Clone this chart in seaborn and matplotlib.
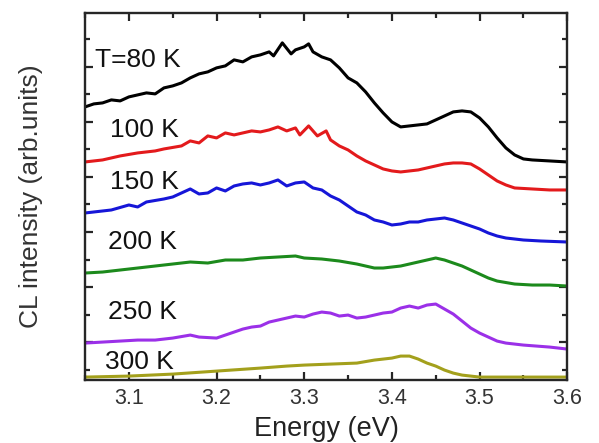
import pandas as pd
import seaborn as sns
import matplotlib.pyplot as plt
from matplotlib.ticker import MultipleLocator

# CL spectra (energy in eV, intensity in arb. units, curves already offset)
e_80 = [3.05, 3.06, 3.07, 3.08, 3.09, 3.10, 3.11, 3.12, 3.13, 3.14, 3.15, 3.16, 3.17, 3.18, 3.19,
        3.20, 3.21, 3.22, 3.23, 3.24, 3.25, 3.26, 3.265, 3.275, 3.285, 3.29, 3.30, 3.305, 3.31, 3.32,
        3.33, 3.34, 3.35, 3.36, 3.37, 3.38, 3.39, 3.40, 3.41, 3.42, 3.43, 3.44, 3.45, 3.46, 3.47,
        3.48, 3.49, 3.50, 3.51, 3.52, 3.53, 3.54, 3.55, 3.56, 3.58, 3.60]
i_80 = [273, 276, 277, 280, 279, 283, 285, 287, 286, 292, 294, 297, 302, 306, 308,
        312, 314, 320, 318, 323, 325, 328, 324, 337, 326, 330, 333, 336, 328, 323,
        320, 312, 302, 297, 288, 277, 267, 258, 253, 254, 255, 256, 260, 264, 268,
        269, 268, 262, 253, 242, 232, 225, 221, 220, 219, 218]

e_100 = [3.05, 3.07, 3.09, 3.11, 3.13, 3.14, 3.16, 3.17, 3.18, 3.19, 3.20, 3.21, 3.22, 3.24, 3.25,
         3.26, 3.27, 3.28, 3.29, 3.295, 3.305, 3.315, 3.325, 3.33, 3.34, 3.35, 3.36, 3.37, 3.38,
         3.39, 3.40, 3.41, 3.42, 3.43, 3.44, 3.45, 3.46, 3.47, 3.48, 3.49, 3.50, 3.51, 3.52, 3.53,
         3.54, 3.56, 3.58, 3.60]
i_100 = [218, 220, 224, 227, 229, 231, 234, 239, 237, 244, 242, 247, 245, 249, 248,
         250, 253, 249, 252, 245, 254, 244, 249, 240, 234, 230, 224, 219, 215,
         211, 209, 208, 209, 210, 212, 214, 216, 217, 217, 216, 211, 205, 199, 195,
         192, 191, 190, 190]

e_150 = [3.05, 3.06, 3.08, 3.10, 3.11, 3.12, 3.14, 3.15, 3.16, 3.17, 3.18, 3.19, 3.20, 3.21, 3.22,
         3.23, 3.24, 3.25, 3.26, 3.27, 3.28, 3.29, 3.30, 3.31, 3.32, 3.33, 3.34, 3.35, 3.36, 3.37,
         3.38, 3.39, 3.40, 3.41, 3.42, 3.43, 3.44, 3.45, 3.46, 3.47, 3.48, 3.49, 3.50, 3.51, 3.52,
         3.53, 3.55, 3.57, 3.60]
i_150 = [167, 168, 170, 175, 173, 178, 181, 183, 187, 191, 186, 187, 192, 189, 194,
         196, 197, 195, 197, 200, 194, 197, 198, 192, 190, 184, 180, 174, 168, 165,
         160, 158, 155, 156, 158, 158, 160, 161, 162, 160, 157, 154, 151, 147, 144,
         142, 140, 139, 138]

e_200 = [3.05, 3.07, 3.09, 3.11, 3.13, 3.15, 3.17, 3.19, 3.21, 3.23, 3.25, 3.27, 3.29, 3.30, 3.32,
         3.34, 3.36, 3.38, 3.39, 3.41, 3.43, 3.44, 3.45, 3.46, 3.47, 3.48, 3.49, 3.50, 3.51, 3.52,
         3.54, 3.56, 3.58, 3.60]
i_200 = [107, 108, 110, 112, 114, 116, 118, 117, 120, 120, 122, 123, 124, 122, 121,
         119, 116, 112, 112, 114, 118, 120, 122, 120, 117, 114, 110, 106, 102, 99,
         96, 95, 95, 94]

e_250 = [3.05, 3.07, 3.09, 3.11, 3.13, 3.15, 3.17, 3.18, 3.20, 3.21, 3.22, 3.23, 3.24, 3.25, 3.26,
         3.27, 3.28, 3.29, 3.30, 3.31, 3.32, 3.33, 3.34, 3.35, 3.36, 3.37, 3.38, 3.39, 3.40, 3.41,
         3.42, 3.43, 3.44, 3.45, 3.46, 3.47, 3.48, 3.49, 3.50, 3.51, 3.52, 3.53, 3.55, 3.58, 3.60]
i_250 = [37, 38, 39, 40, 40, 42, 45, 43, 42, 45, 48, 51, 53, 54, 58,
         60, 62, 64, 63, 66, 68, 67, 64, 65, 62, 63, 65, 67, 68, 72,
         74, 72, 75, 76, 71, 66, 59, 52, 47, 43, 39, 37, 35, 33, 31]

e_300 = [3.05, 3.10, 3.15, 3.20, 3.25, 3.28, 3.30, 3.33, 3.36, 3.38, 3.40, 3.41, 3.42, 3.43, 3.44,
         3.45, 3.46, 3.47, 3.48, 3.50, 3.55, 3.60]
i_300 = [3, 4, 6, 9, 12, 14, 15, 16, 17, 20, 22, 24, 24, 21, 17,
         14, 10, 7, 5, 3, 3, 3]

labels = ["T=80 K", "100 K", "150 K", "200 K", "250 K", "300 K"]
colors = ["#000000", "#e31a1c", "#1616d8", "#1c8a1c", "#9b30e8", "#a3a01c"]

frames = []
for lab, e, i in zip(labels, [e_80, e_100, e_150, e_200, e_250, e_300],
                     [i_80, i_100, i_150, i_200, i_250, i_300]):
    frames.append(pd.DataFrame({"Energy": e, "Intensity": i, "T": lab}))
df = pd.concat(frames, ignore_index=True)

sns.set_style("ticks")
plt.rcParams["font.family"] = ["Liberation Sans", "DejaVu Sans"]

fig = plt.figure(figsize=(5.99, 4.43), dpi=100)
ax = fig.add_axes([0.142, 0.142, 0.805, 0.829])

sns.lineplot(data=df, x="Energy", y="Intensity", hue="T", palette=colors,
             estimator=None, sort=False, linewidth=2.2, legend=False, ax=ax)

# curve labels
label_pos = [(3.061, 320), (3.078, 250), (3.078, 198), (3.076, 138), (3.076, 68), (3.073, 18)]
for lab, (x, y) in zip(labels, label_pos):
    ax.text(x, y, lab, fontsize=19, ha="left", va="center", color="#111111")

ax.set_xlim(3.05, 3.6)
ax.set_ylim(0, 367)
ax.xaxis.set_major_locator(MultipleLocator(0.1))
ax.xaxis.set_minor_locator(MultipleLocator(0.05))
ax.yaxis.set_major_locator(MultipleLocator(55, offset=38))
ax.yaxis.set_minor_locator(MultipleLocator(27.5, offset=10.5))
ax.tick_params(which="both", direction="in", top=True, right=True, width=1.6)
ax.tick_params(which="major", length=6)
ax.tick_params(which="minor", length=3.5)
ax.tick_params(axis="x", labelsize=15.5, pad=6, labelcolor="#333333")
ax.set_yticklabels([])
for s in ax.spines.values():
    s.set_linewidth(1.7)

ax.set_xlabel("Energy (eV)", fontsize=19.5, labelpad=5, color="#222222")
ax.set_ylabel("CL intensity (arb.units)", fontsize=19, labelpad=27, color="#333333")

fig.savefig("out.png", dpi=100)
